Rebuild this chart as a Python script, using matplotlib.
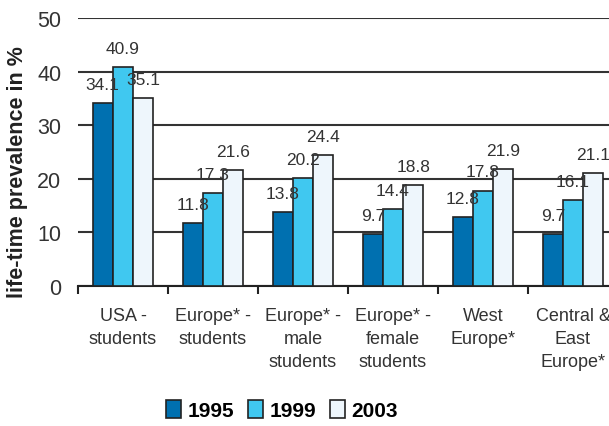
import numpy as np
import matplotlib.pyplot as plt

categories = ["USA -\nstudents", "Europe* -\nstudents", "Europe* -\nmale\nstudents",
              "Europe* -\nfemale\nstudents", "West\nEurope*", "Central &\nEast\nEurope*"]
years = ["1995", "1999", "2003"]
v1995 = [34.1, 11.8, 13.8, 9.7, 12.8, 9.7]
v1999 = [40.9, 17.3, 20.2, 14.4, 17.8, 16.1]
v2003 = [35.1, 21.6, 24.4, 18.8, 21.9, 21.1]
colors = ["#0070b0", "#40c8f0", "#eef6fc"]

plt.rcParams['font.family'] = ['Liberation Sans', 'DejaVu Sans']

fig = plt.figure(figsize=(6.09, 4.27), dpi=100)
ax = fig.add_axes([78/609, 140/427, 540/609, 268/427])

x = np.arange(len(categories))
w = 0.225
for i, (vals, c) in enumerate(zip([v1995, v1999, v2003], colors)):
    bars = ax.bar(x + (i - 1) * w, vals, w, color=c, edgecolor="#222222",
                  linewidth=1.2, label=years[i], zorder=3)
    for b, v in zip(bars, vals):
        ax.annotate(f"{v}", (b.get_x() + b.get_width() / 2, v), xytext=(0, 8),
                    textcoords="offset points", ha="center", va="bottom",
                    fontsize=12.5, color="#333333", zorder=4)

ax.set_ylim(0, 50)
ax.set_xlim(-0.5, len(categories) - 0.5)
ax.set_yticks([0, 10, 20, 30, 40, 50])
ax.tick_params(axis='y', length=0, labelsize=15.5, labelcolor="#333333", pad=12)
ax.yaxis.grid(True, color="#333333", linewidth=1.5, zorder=0)
ax.set_axisbelow(True)

ax.set_xticks(x)
ax.set_xticklabels(categories, fontsize=13, color="#333333", linespacing=1.45, va="top")
ax.tick_params(axis='x', which='major', length=0, pad=15)
ax.set_xticks(np.arange(len(categories) + 1) - 0.5, minor=True)
ax.tick_params(axis='x', which='minor', length=6, width=1.5, color="#222222")

for s in ["top", "right", "left"]:
    ax.spines[s].set_visible(False)
ax.spines["bottom"].set_color("#222222")
ax.spines["bottom"].set_linewidth(1.5)

ax.set_ylabel("life-time prevalence in %", fontsize=15.5, fontweight="bold",
              color="#222222")
ax.yaxis.set_label_coords(-0.093, 0.43)

fig.legend(loc="center", bbox_to_anchor=(282/609, 16/427), ncol=3, frameon=False,
           prop={"weight": "bold", "size": 15}, handlelength=0.7, handleheight=1.0,
           handletextpad=0.3, columnspacing=0.7, borderaxespad=0)

fig.savefig("out.png", dpi=100)
